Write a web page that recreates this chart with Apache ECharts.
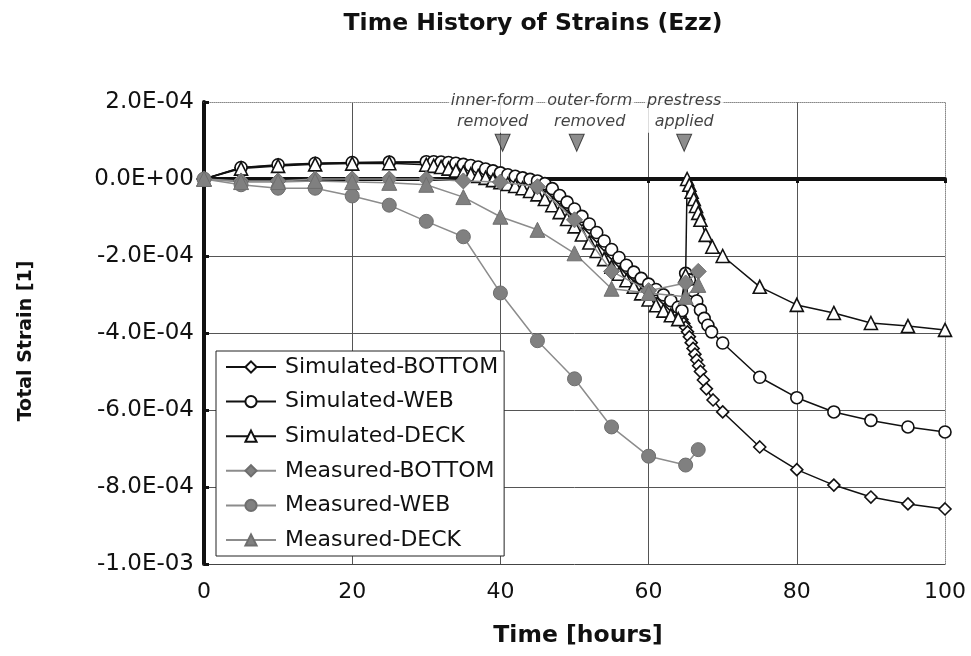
<!DOCTYPE html>
<html>
<head>
<meta charset="utf-8">
<script src="https://cdn.jsdelivr.net/npm/echarts@6/dist/echarts.min.js"></script>
<style>
  html, body { margin: 0; padding: 0; background: #fff; }
  #chart { width: 971px; height: 656px; }
</style>
</head>
<body>
<div id="chart"></div>
<script>
// Strain values below are in units of 1e-4; time in hours.
const simBottom = [
  [0,0],[5,0.29],[10,0.36],[15,0.4],[20,0.42],[25,0.43],[30,0.43],[31,0.43],[32,0.42],[33,0.41],
  [34,0.39],[35,0.36],[36,0.33],[37,0.29],[38,0.24],[39,0.19],[40,0.14],[41,0.09],[42,0.05],[43,0.01],
  [44,-0.03],[45,-0.08],[46,-0.18],[47,-0.32],[48,-0.5],[49,-0.68],[50,-0.87],[51,-1.06],[52,-1.27],
  [53,-1.49],[54,-1.71],[55,-1.93],[56,-2.13],[57,-2.32],[58,-2.5],[59,-2.66],[60,-2.8],[61,-2.95],
  [62,-3.1],[63,-3.28],[64,-3.5],[64.25,-3.57],[64.5,-3.65],[64.75,-3.75],[65,-3.85],[65.25,-3.97],
  [65.5,-4.1],[65.75,-4.25],[66,-4.4],[66.25,-4.55],[66.5,-4.7],[66.75,-4.85],[67,-5.0],[67.4,-5.22],
  [67.8,-5.45],[68.7,-5.74],[70,-6.05],[75,-6.96],[80,-7.55],[85,-7.95],[90,-8.26],[95,-8.44],[100,-8.57]
];
const simWeb = [
  [0,0],[5,0.3],[10,0.37],[15,0.41],[20,0.43],[25,0.44],[30,0.45],[31,0.45],[32,0.44],[33,0.43],
  [34,0.41],[35,0.38],[36,0.35],[37,0.31],[38,0.26],[39,0.21],[40,0.16],[41,0.11],[42,0.07],[43,0.03],
  [44,-0.01],[45,-0.05],[46,-0.12],[47,-0.25],[48,-0.43],[49,-0.6],[50,-0.78],[51,-0.97],[52,-1.17],
  [53,-1.39],[54,-1.61],[55,-1.83],[56,-2.04],[57,-2.24],[58,-2.42],[59,-2.58],[60,-2.73],[61,-2.87],
  [62,-3.01],[63,-3.16],[64,-3.33],[64.5,-3.42],[65,-2.45],[65.5,-2.62],[66,-2.9],[66.5,-3.17],
  [67,-3.4],[67.5,-3.62],[68,-3.8],[68.5,-3.97],[70,-4.26],[75,-5.15],[80,-5.68],[85,-6.05],
  [90,-6.27],[95,-6.44],[100,-6.57]
];
const simDeck = [
  [0,0],[5,0.27],[10,0.34],[15,0.38],[20,0.4],[25,0.41],[30,0.37],[31,0.34],[32,0.31],[33,0.27],
  [34,0.22],[35,0.17],[36,0.12],[37,0.08],[38,0.03],[39,-0.03],[40,-0.08],[41,-0.13],[42,-0.18],
  [43,-0.24],[44,-0.31],[45,-0.4],[46,-0.52],[47,-0.68],[48,-0.86],[49,-1.04],[50,-1.23],[51,-1.44],
  [52,-1.65],[53,-1.87],[54,-2.08],[55,-2.28],[56,-2.46],[57,-2.63],[58,-2.8],[59,-2.97],[60,-3.13],
  [61,-3.28],[62,-3.42],[63,-3.54],[64,-3.64],[65,-2.5],[65.2,0.0],[65.5,-0.15],[65.8,-0.33],
  [66.1,-0.52],[66.4,-0.7],[66.7,-0.88],[67,-1.06],[67.7,-1.45],[68.6,-1.76],[70,-2.0],[75,-2.8],
  [80,-3.27],[85,-3.48],[90,-3.74],[95,-3.82],[100,-3.92]
];
const measBottom = [
  [0,0],[5,-0.05],[10,-0.05],[15,0],[20,0],[25,0],[30,0],[35,-0.05],[40,-0.08],[45,-0.2],
  [50,-1.06],[55,-2.4],[60,-2.9],[65,-2.7],[66.7,-2.4]
];
const measWeb = [
  [0,0],[5,-0.15],[10,-0.24],[15,-0.24],[20,-0.44],[25,-0.68],[30,-1.1],[35,-1.5],[40,-2.96],
  [45,-4.2],[50,-5.19],[55,-6.44],[60,-7.2],[65,-7.43],[66.7,-7.03]
];
const measDeck = [
  [0,0],[5,-0.08],[10,-0.08],[15,-0.05],[20,-0.08],[25,-0.1],[30,-0.15],[35,-0.47],[40,-0.98],
  [45,-1.32],[50,-1.93],[55,-2.85],[60,-2.96],[65,-3.06],[66.7,-2.75]
];

const seriesNames = ['Simulated-BOTTOM', 'Simulated-WEB', 'Simulated-DECK',
                     'Measured-BOTTOM', 'Measured-WEB', 'Measured-DECK'];

// Construction events marked above the curves
const eventTimes = [40.3, 50.3, 64.8];
const eventLabels = ['inner-form\nremoved', 'outer-form\nremoved', 'prestress\napplied'];
// horizontal nudge of each event caption relative to its marker (px)
const eventLabelShift = [-10, 13, 0];

const FONT = 'DejaVu Sans, Verdana, sans-serif';
const EVENT_LEVEL = 0.94;

function strainLabel(v) {
  const val = v * 1e-4;
  if (Math.abs(val) < 1e-12) return '0.0E+00';
  const exp = Math.floor(Math.log10(Math.abs(val)) + 1e-9);
  const mant = val / Math.pow(10, exp);
  return mant.toFixed(1) + 'E' + (exp < 0 ? '-' : '+') + String(Math.abs(exp)).padStart(2, '0');
}

function simSeries(name, data, symbol, size) {
  return {
    name, type: 'line', data, symbol, symbolSize: size, showAllSymbol: true,
    xAxisIndex: 0, yAxisIndex: 0, z: 3, animation: false,
    lineStyle: { color: '#111', width: 1.5 },
    itemStyle: { color: '#fff', borderColor: '#111', borderWidth: 1.6 },
    emphasis: { disabled: true }
  };
}
function measSeries(name, data, symbol, size) {
  return {
    name, type: 'line', data, symbol, symbolSize: size, showAllSymbol: true,
    xAxisIndex: 0, yAxisIndex: 0, z: 4, animation: false,
    lineStyle: { color: '#8c8c8c', width: 1.5 },
    itemStyle: { color: '#808080', borderColor: '#6e6e6e', borderWidth: 1 },
    emphasis: { disabled: true }
  };
}

const chart = echarts.init(document.getElementById('chart'), null, { renderer: 'canvas' });

chart.setOption({
  animation: false,
  backgroundColor: '#fff',
  textStyle: { fontFamily: FONT },
  grid: { left: 204, right: 26, top: 102, bottom: 92, containLabel: false },
  graphic: [
    { type: 'text', style: { text: 'Time History of Strains (Ezz)', x: 533, y: 24,
      font: 'bold 23.5px ' + FONT, fill: '#111', textAlign: 'center', textVerticalAlign: 'middle' } },
    { type: 'text', style: { text: 'Time [hours]', x: 578, y: 636,
      font: 'bold 23.5px ' + FONT, fill: '#111', textAlign: 'center', textVerticalAlign: 'middle' } },
    { type: 'text', rotation: Math.PI / 2, x: 26, y: 341,
      style: { text: 'Total Strain [1]', x: 0, y: 0,
      font: 'bold 19px ' + FONT, fill: '#111', textAlign: 'center', textVerticalAlign: 'middle' } }
  ],
  legend: {
    data: seriesNames,
    orient: 'vertical', left: 216, top: 351,
    backgroundColor: '#fff', borderColor: '#222', borderWidth: 1,
    padding: [3, 6, 3, 9], itemGap: 8.6, itemWidth: 50, itemHeight: 14,
    textStyle: { fontSize: 22, fontFamily: FONT, color: '#111', lineHeight: 26, padding: [0, 0, 0, 4] },
    selectedMode: false, z: 10
  },
  xAxis: [
    { type: 'value', min: 0, max: 100, interval: 20, position: 'bottom',
      axisLine: { onZero: false, lineStyle: { color: '#444', width: 1 } },
      axisTick: { show: false },
      axisLabel: { fontSize: 22, color: '#111', margin: 17, fontFamily: FONT },
      splitLine: { show: true, showMinLine: false, showMaxLine: false, lineStyle: { color: '#555', width: 1 } } },
    { type: 'value', min: 0, max: 100, interval: 20, position: 'bottom',
      axisLine: { onZero: true, onZeroAxisIndex: 0, lineStyle: { color: '#111', width: 4 } },
      axisTick: { show: true, inside: false, length: 4, lineStyle: { color: '#111', width: 3 } },
      axisLabel: { show: false }, splitLine: { show: false } },
    { type: 'value', min: 0, max: 100, interval: 20, position: 'top',
      axisLine: { onZero: false, lineStyle: { color: '#888', width: 1, type: 'dotted' } },
      axisTick: { show: false }, axisLabel: { show: false }, splitLine: { show: false } }
  ],
  yAxis: [
    { type: 'value', min: -10, max: 2, interval: 2, position: 'left',
      axisLine: { onZero: false, lineStyle: { color: '#111', width: 4 } },
      axisTick: { show: true, inside: true, length: 5, lineStyle: { color: '#111', width: 3 } },
      axisLabel: { fontSize: 23, color: '#111', margin: 10, fontFamily: FONT, formatter: strainLabel },
      splitLine: { show: true, showMinLine: false, showMaxLine: false, lineStyle: { color: '#555', width: 1 } } },
    { type: 'value', min: -10, max: 2, interval: 2, position: 'right',
      axisLine: { onZero: false, lineStyle: { color: '#888', width: 1, type: 'dotted' } },
      axisTick: { show: false }, axisLabel: { show: false }, splitLine: { show: false } }
  ],
  series: [
    simSeries(seriesNames[0], simBottom, 'diamond', 12),
    simSeries(seriesNames[1], simWeb, 'circle', 12),
    simSeries(seriesNames[2], simDeck, 'triangle', 13),
    measSeries(seriesNames[3], measBottom, 'diamond', 16),
    measSeries(seriesNames[4], measWeb, 'circle', 14),
    measSeries(seriesNames[5], measDeck, 'triangle', 15),
    {
      name: 'events', type: 'scatter', z: 8, animation: false,
      data: eventTimes.map((t, i) => ({
        value: [t, EVENT_LEVEL], name: eventLabels[i],
        label: { offset: [eventLabelShift[i], 0] }
      })),
      symbol: 'triangle', symbolRotate: 180, symbolSize: [15, 17],
      itemStyle: { color: '#707070', borderColor: '#222', borderWidth: 1 },
      label: { show: true, position: 'top', distance: 1, formatter: p => p.name,
        fontSize: 16, fontStyle: 'italic', lineHeight: 21, color: '#111', fontFamily: FONT,
        backgroundColor: '#fff', padding: [0, 2], align: 'center' },
      emphasis: { disabled: true }, clip: false
    }
  ]
});
</script>
</body>
</html>
